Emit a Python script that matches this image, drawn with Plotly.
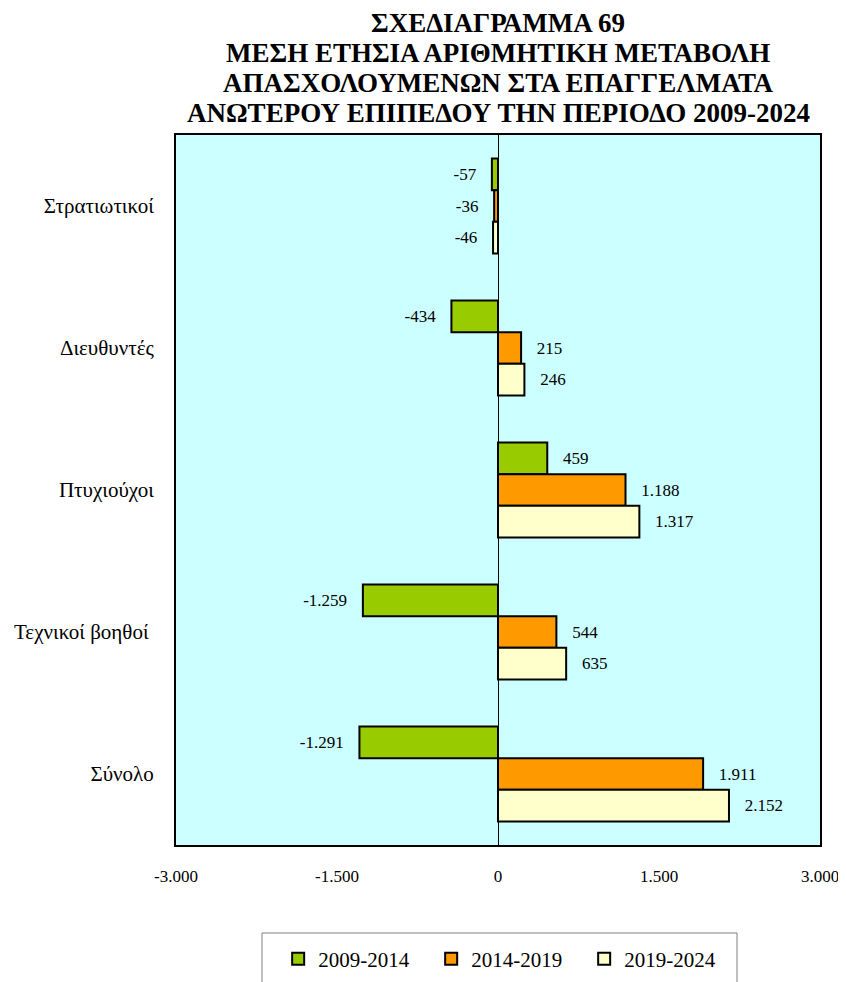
import plotly.graph_objects as go

categories = ["Στρατιωτικοί", "Διευθυντές", "Πτυχιούχοι", "Τεχνικοί βοηθοί ", "Σύνολο"]
series_names = ["2009-2014", "2014-2019", "2019-2024"]
v_2009_2014 = [-57, -434, 459, -1259, -1291]
v_2014_2019 = [-36, 215, 1188, 544, 1911]
v_2019_2024 = [-46, 246, 1317, 635, 2152]
colors = ["#99CC00", "#FF9900", "#FFFFCC"]
tick_vals = [-3000, -1500, 0, 1500, 3000]
tick_labels = ["-3.000", "-1.500", "0", "1.500", "3.000"]
title_lines = [
    "ΣΧΕΔΙΑΓΡΑΜΜΑ 69",
    "ΜΕΣΗ ΕΤΗΣΙΑ ΑΡΙΘΜΗΤΙΚΗ ΜΕΤΑΒΟΛΗ",
    "ΑΠΑΣΧΟΛΟΥΜΕΝΩΝ ΣΤΑ ΕΠΑΓΓΕΛΜΑΤΑ",
    "ΑΝΩΤΕΡΟΥ ΕΠΙΠΕΔΟΥ ΤΗΝ ΠΕΡΙΟΔΟ 2009-2024",
]

FONT = "Liberation Serif, Times New Roman, serif"
W, H = 846, 982
L, R, T, B = 168, 34, 127, 145
PW, PH = W - L - R, H - T - B

def px_x(x):
    return (x - L) / PW

def px_y(y):
    return (H - B - y) / PH

def fmt(v):
    s = f"{abs(v):,}".replace(",", ".")
    return ("-" + s) if v < 0 else s

NB = "\u00a0\u00a0\u00a0"

fig = go.Figure()
for name, vals, col in zip(series_names, [v_2009_2014, v_2014_2019, v_2019_2024], colors):
    texts = [(NB + fmt(v)) if v >= 0 else (fmt(v) + NB) for v in vals]
    fig.add_trace(go.Bar(
        y=categories, x=vals, name=name, orientation="h",
        marker=dict(color=col, line=dict(color="black", width=2)),
        text=texts, textposition="outside",
        textfont=dict(family=FONT, size=17, color="black"),
        cliponaxis=False,
    ))

fig.update_layout(
    width=W, height=H,
    margin=dict(l=L, r=R, t=T, b=B, autoexpand=False),
    paper_bgcolor="white", plot_bgcolor="#CCFFFF",
    separators=",.",
    barmode="group", bargap=0.33, bargroupgap=0,
    font=dict(family=FONT, size=17, color="black"),
    showlegend=True,
    legend=dict(
        orientation="h", x=0.515, xanchor="center", y=px_y(951), yanchor="middle",
        font=dict(family=FONT, size=21), traceorder="normal",
        entrywidth=108, itemwidth=30, bgcolor="rgba(0,0,0,0)",
    ),
)
for i, line in enumerate(title_lines):
    fig.add_annotation(
        text=line, xref="paper", yref="paper", x=0.5, xanchor="center",
        y=px_y(15 + 30 * i), yanchor="middle", showarrow=False,
        font=dict(family=FONT, size=27, color="black", weight="bold"),
    )
fig.update_xaxes(
    range=[-3000, 3000], tickvals=tick_vals, ticktext=tick_labels,
    showgrid=False, zeroline=True, zerolinecolor="black", zerolinewidth=1,
    showline=True, linecolor="black", linewidth=2, mirror=True,
    ticks="", ticklabelstandoff=15, tickfont=dict(size=17),
)
fig.update_yaxes(
    autorange="reversed", showgrid=False,
    showline=True, linecolor="black", linewidth=2, mirror=True,
    ticks="", ticklabelstandoff=16, tickfont=dict(size=21),
)
fig.add_shape(type="rect", xref="paper", yref="paper",
              x0=px_x(254), x1=px_x(729), y0=px_y(925), y1=px_y(1000),
              line=dict(color="#808080", width=1), fillcolor="rgba(0,0,0,0)")

fig.write_html("out.html")
